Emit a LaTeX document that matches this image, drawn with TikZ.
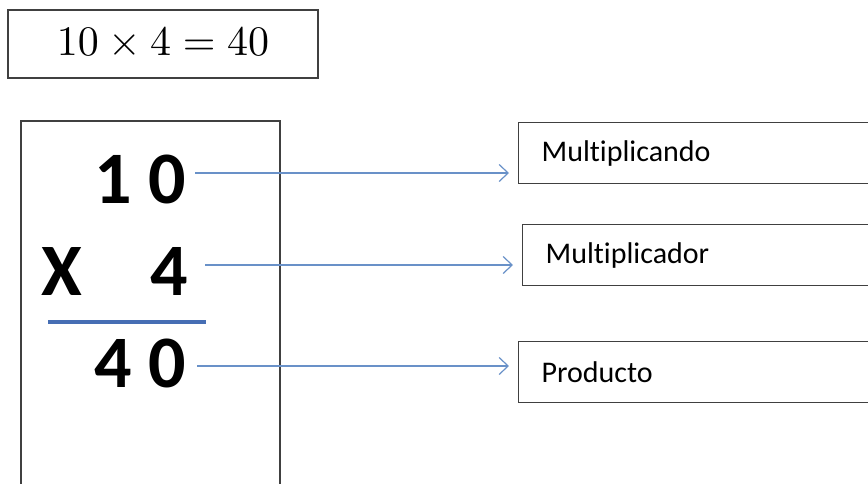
\documentclass[tikz,border=0pt]{standalone}
\usepackage{fontspec}
\usepackage{graphicx}
\setmainfont{Carlito}[Ligatures=NoCommon]
\usetikzlibrary{arrows.meta}
\definecolor{linkblue}{RGB}{105,145,200}
\definecolor{ruleblue}{RGB}{70,110,180}

\tikzset{
  frame/.style={draw=black!75, line width=1.3pt},
  namebox/.style={frame, anchor=north west, minimum height=61pt, text width=310pt,
    inner xsep=23pt, align=left, font=\fontsize{30}{33}\selectfont},
  digit/.style={inner sep=0pt, font=\fontsize{74}{80}\selectfont\bfseries},
  link/.style={linkblue, line width=1.2pt, shorten >=9pt,
    -{Straight Barb[length=9pt,width=17pt,line width=1.2pt]}}
}

\begin{document}
\begin{tikzpicture}[x=1pt,y=-1pt]
			\useasboundingbox (0,0) rectangle (868,483);
			\clip (0,0) rectangle (868,483);
			% equation on top
			\node[frame, minimum width=310pt, minimum height=68pt] (eq) at (163,44)
				{\scalebox{4.2}{$10\times4=40$}};
			% the column multiplication
			\draw[frame] (21,121) rectangle (280,500);
			\node[digit, anchor=base east] (cando) at (186,203) {1 0};
			\node[digit, anchor=base west] (times) at (41,295) {X};
			\node[digit, anchor=base east] (dor) at (188,295) {4};
			\draw[ruleblue, line width=4pt] (48,322) -- (206,322);
			\node[digit, anchor=base east] (prod) at (186,387) {4 0};
			% names
			\node[namebox] (ncando) at (518,122) {Multiplicando};
			\node[namebox] (ndor) at (522,224) {Multiplicador};
			\node[namebox] (nprod) at (518,341) {Producto};
			\coordinate (s1) at (195,173);
			\coordinate (s2) at (205,265);
			\coordinate (s3) at (197,366);
			\draw[link] (s1) -- (s1 -| ncando.west);
			\draw[link] (s2) -- (s2 -| ndor.west);
			\draw[link] (s3) -- (s3 -| nprod.west);
		\end{tikzpicture}
\end{document}
